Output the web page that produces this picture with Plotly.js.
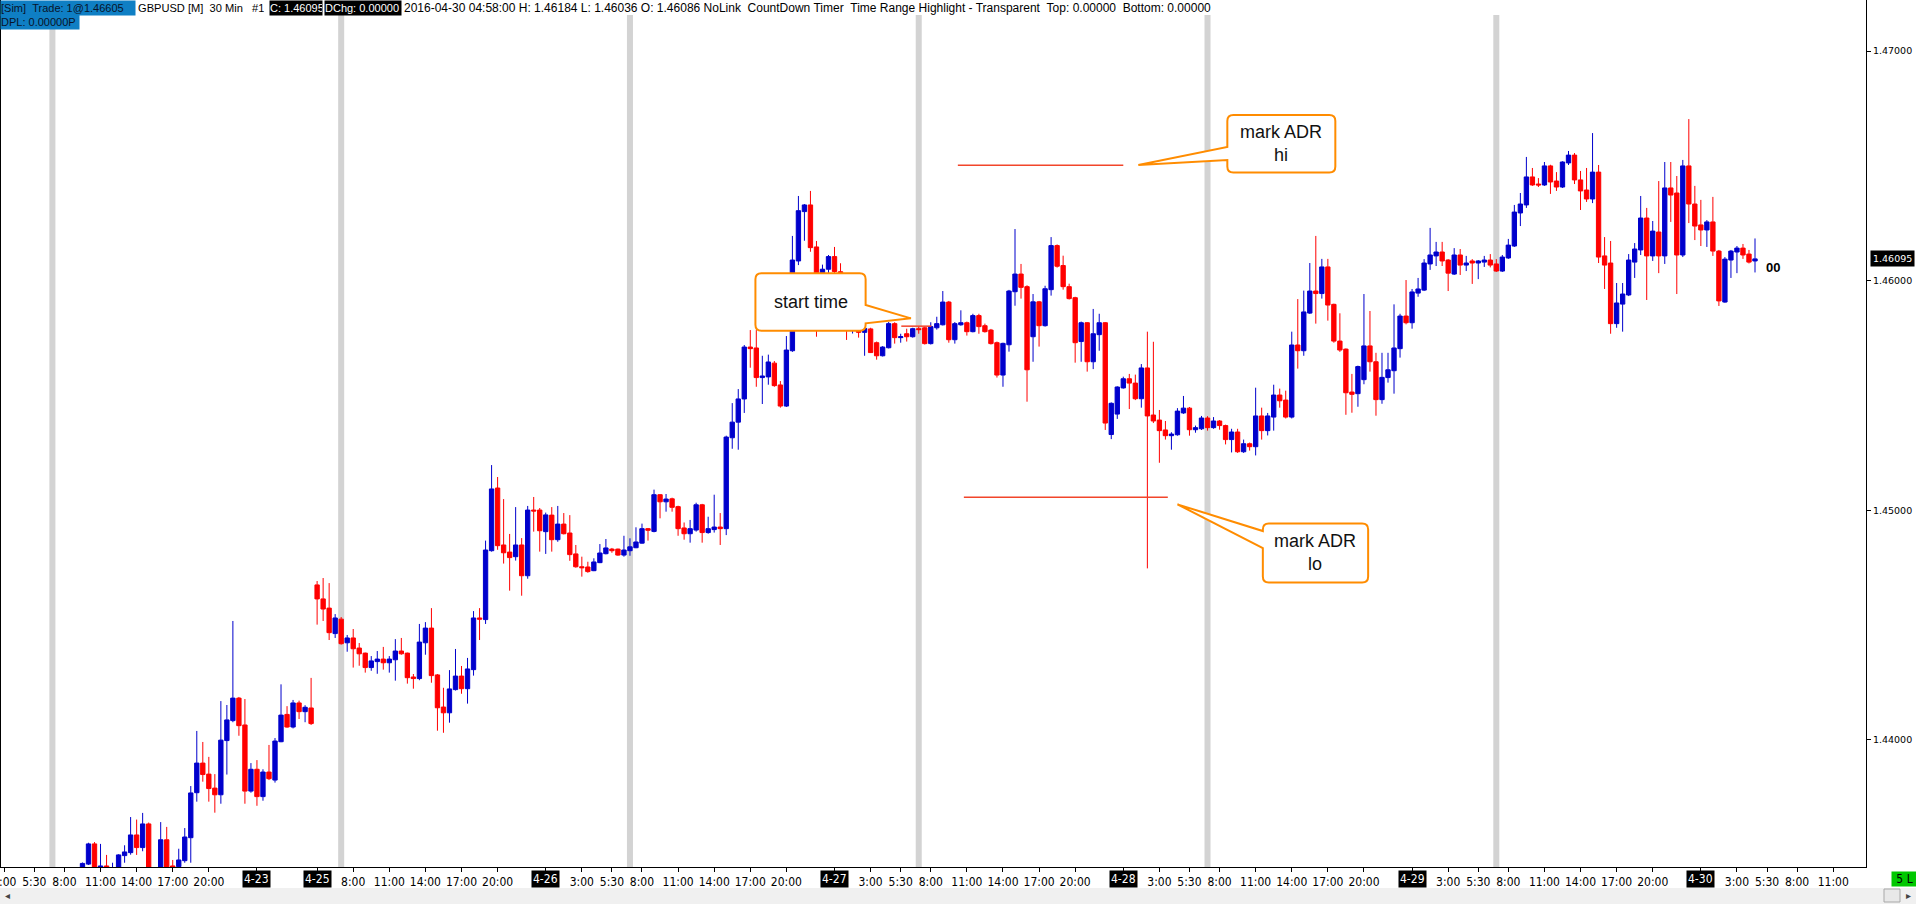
<!DOCTYPE html>
<html><head><meta charset="utf-8">
<script src="https://cdn.plot.ly/plotly-3.0.1.min.js"></script>
<style>html,body{margin:0;padding:0;background:#fff;overflow:hidden}#chart{width:1916px;height:904px}</style>
</head><body><div id="chart"></div>
<script>
// ---- data: GBPUSD 30 min bars; bar number 0 = 2016-04-22 00:00 (weekend removed) ----
const firstBar = 19; // 2016-04-22 09:30
const openP = [
1.43440,1.43459,1.43547,1.43440,1.43451,1.43430,1.43440,1.43496,1.43509,1.43586,
1.43531,1.43634,1.43430,1.43430,1.43565,1.43451,1.43448,1.43474,1.43574,1.43770,
1.43899,1.43851,1.43790,1.43761,1.43997,1.44084,1.44182,1.44065,1.43777,1.43872,
1.43753,1.43860,1.43825,1.43992,1.44111,1.44056,1.44161,1.44123,1.44139,1.44675,
1.44614,1.44574,1.44463,1.44526,1.44423,1.44444,1.44400,1.44378,1.44315,1.44341,
1.44352,1.44336,1.44349,1.44387,1.44378,1.44274,1.44267,1.44423,1.44487,1.44283,
1.44143,1.44118,1.44219,1.44278,1.44223,1.44306,1.44531,1.44524,1.44824,1.45097,
1.44849,1.44818,1.44798,1.44849,1.44715,1.45001,1.45001,1.44907,1.44979,1.44872,
1.44940,1.44901,1.44810,1.44754,1.44753,1.44737,1.44772,1.44811,1.44831,1.44831,
1.44805,1.44824,1.44837,1.44857,1.44920,1.44908,1.45068,1.45037,1.45050,1.45016,
1.44923,1.44898,1.44914,1.45024,1.44903,1.44916,1.44927,1.44920,1.45316,1.45384,
1.45485,1.45711,1.45707,1.45578,1.45581,1.45641,1.45546,1.45454,1.45695,1.46086,
1.46301,1.46330,1.46147,1.45900,1.46050,1.46105,1.46039,1.45880,1.45790,1.45800,
1.45775,1.45790,1.45730,1.45673,1.45708,1.45813,1.45752,1.45769,1.45756,1.45791,
1.45795,1.45726,1.45795,1.45808,1.45907,1.45743,1.45808,1.45817,1.45778,1.45848,
1.45804,1.45785,1.45730,1.45589,1.45721,1.45952,1.46029,1.45974,1.45756,1.45908,
1.45804,1.45961,1.46153,1.46066,1.45974,1.45926,1.45735,1.45817,1.45647,1.45765,
1.45817,1.45330,1.45419,1.45533,1.45573,1.45554,1.45486,1.45620,1.45415,1.45393,
1.45350,1.45325,1.45329,1.45424,1.45445,1.45351,1.45355,1.45402,1.45360,1.45389,
1.45369,1.45308,1.45341,1.45255,1.45290,1.45277,1.45411,1.45347,1.45406,1.45502,
1.45480,1.45406,1.45720,1.45695,1.45859,1.45955,1.45944,1.46060,1.45897,1.45737,
1.45702,1.45515,1.45508,1.45569,1.45716,1.45647,1.45482,1.45578,1.45608,1.45704,
1.45846,1.45817,1.45946,1.45959,1.46073,1.46108,1.46125,1.46090,1.46029,1.46112,
1.46068,1.46086,1.46077,1.46081,1.46090,1.46073,1.46042,1.46099,1.46151,1.46295,
1.46330,1.46452,1.46421,1.46417,1.46500,1.46434,1.46408,1.46513,1.46547,1.46439,
1.46395,1.46356,1.46473,1.46108,1.46077,1.45813,1.45898,1.45938,1.46081,1.46134,
1.46273,1.46108,1.46212,1.46108,1.46404,1.46382,1.46112,1.46500,1.46334,1.46243,
1.46221,1.46256,1.46129,1.45907,1.46090,1.46125,1.46142,1.46116,1.46086];
const highP = [
1.43466,1.43552,1.43555,1.43547,1.43499,1.43465,1.43502,1.43541,1.43664,1.43653,
1.43682,1.43640,1.43440,1.43642,1.43621,1.43477,1.43526,1.43616,1.43799,1.44039,
1.43991,1.43926,1.43851,1.44169,1.44152,1.44518,1.44187,1.44178,1.43899,1.43912,
1.43872,1.43978,1.44008,1.44242,1.44147,1.44174,1.44171,1.44151,1.44270,1.44692,
1.44705,1.44683,1.44548,1.44535,1.44457,1.44483,1.44422,1.44380,1.44365,1.44387,
1.44405,1.44365,1.44439,1.44444,1.44380,1.44287,1.44505,1.44513,1.44574,1.44287,
1.44227,1.44304,1.44396,1.44322,1.44357,1.44561,1.44574,1.44868,1.45197,1.45145,
1.45049,1.44897,1.45014,1.44879,1.45019,1.45058,1.45010,1.44990,1.45014,1.45019,
1.44988,1.44979,1.44849,1.44798,1.44776,1.44791,1.44853,1.44875,1.44836,1.44833,
1.44889,1.44878,1.44926,1.44942,1.44923,1.45090,1.45070,1.45071,1.45055,1.45020,
1.44947,1.44958,1.45033,1.45028,1.44972,1.45068,1.44988,1.45325,1.45467,1.45528,
1.45720,1.45785,1.45785,1.45673,1.45678,1.45650,1.45563,1.45759,1.46195,1.46369,
1.46334,1.46391,1.46173,1.46070,1.46112,1.46147,1.46076,1.45900,1.45870,1.45830,
1.45800,1.45795,1.45735,1.45715,1.45820,1.45819,1.45769,1.45791,1.45795,1.45800,
1.45800,1.45819,1.45843,1.45955,1.45912,1.45820,1.45871,1.45822,1.45856,1.45856,
1.45813,1.45790,1.45735,1.45730,1.45960,1.46225,1.46073,1.45980,1.45942,1.45912,
1.45978,1.46190,1.46158,1.46109,1.45987,1.45930,1.45822,1.45820,1.45877,1.45856,
1.45820,1.45470,1.45540,1.45582,1.45594,1.45591,1.45637,1.45778,1.45734,1.45437,
1.45389,1.45340,1.45445,1.45498,1.45450,1.45369,1.45411,1.45410,1.45406,1.45393,
1.45373,1.45355,1.45355,1.45308,1.45295,1.45534,1.45447,1.45424,1.45547,1.45530,
1.45521,1.45778,1.45920,1.45957,1.46077,1.46195,1.46095,1.46095,1.45900,1.45858,
1.45705,1.45594,1.45630,1.45942,1.45868,1.45686,1.45686,1.45686,1.45897,1.45856,
1.46003,1.45964,1.46012,1.46094,1.46230,1.46169,1.46169,1.46094,1.46142,1.46138,
1.46108,1.46094,1.46090,1.46108,1.46116,1.46094,1.46112,1.46182,1.46330,1.46382,
1.46539,1.46491,1.46447,1.46517,1.46505,1.46473,1.46520,1.46565,1.46556,1.46478,
1.46491,1.46643,1.46504,1.46190,1.46173,1.45990,1.45990,1.46116,1.46164,1.46369,
1.46317,1.46260,1.46434,1.46517,1.46517,1.46456,1.46526,1.46704,1.46413,1.46352,
1.46264,1.46365,1.46134,1.46103,1.46134,1.46151,1.46160,1.46134,1.46184];
const lowP = [
1.43420,1.43455,1.43420,1.43430,1.43430,1.43420,1.43430,1.43465,1.43500,1.43499,
1.43515,1.43420,1.43400,1.43420,1.43420,1.43425,1.43430,1.43465,1.43465,1.43731,
1.43818,1.43731,1.43683,1.43722,1.43849,1.44077,1.44018,1.43722,1.43770,1.43713,
1.43735,1.43825,1.43814,1.43990,1.44053,1.44050,1.44091,1.44077,1.44065,1.44502,
1.44518,1.44435,1.44444,1.44415,1.44384,1.44315,1.44323,1.44293,1.44301,1.44288,
1.44306,1.44293,1.44258,1.44371,1.44245,1.44223,1.44260,1.44371,1.44249,1.44040,
1.44031,1.44075,1.44215,1.44201,1.44158,1.44280,1.44435,1.44505,1.44820,1.44828,
1.44768,1.44650,1.44781,1.44628,1.44702,1.44907,1.44820,1.44810,1.44820,1.44863,
1.44895,1.44780,1.44750,1.44711,1.44728,1.44735,1.44770,1.44808,1.44815,1.44802,
1.44798,1.44802,1.44835,1.44855,1.44868,1.44904,1.44965,1.44994,1.44994,1.44889,
1.44872,1.44859,1.44907,1.44859,1.44898,1.44903,1.44849,1.44892,1.45268,1.45264,
1.45424,1.45621,1.45538,1.45463,1.45547,1.45538,1.45447,1.45450,1.45690,1.46068,
1.46174,1.46126,1.45756,1.45807,1.46030,1.46020,1.45850,1.45742,1.45770,1.45752,
1.45673,1.45685,1.45656,1.45670,1.45705,1.45726,1.45730,1.45735,1.45752,1.45769,
1.45722,1.45722,1.45787,1.45805,1.45730,1.45726,1.45804,1.45761,1.45775,1.45769,
1.45774,1.45722,1.45578,1.45538,1.45691,1.45891,1.45922,1.45473,1.45647,1.45713,
1.45800,1.45935,1.46057,1.45961,1.45918,1.45643,1.45647,1.45604,1.45615,1.45695,
1.45350,1.45310,1.45398,1.45530,1.45441,1.45480,1.45447,1.44747,1.45380,1.45207,
1.45308,1.45264,1.45325,1.45420,1.45325,1.45338,1.45350,1.45347,1.45355,1.45351,
1.45287,1.45252,1.45250,1.45250,1.45260,1.45239,1.45308,1.45326,1.45347,1.45447,
1.45400,1.45400,1.45617,1.45673,1.45855,1.45813,1.45922,1.45826,1.45730,1.45690,
1.45416,1.45425,1.45451,1.45549,1.45604,1.45412,1.45464,1.45556,1.45508,1.45665,
1.45810,1.45791,1.45930,1.45955,1.46047,1.46064,1.46064,1.45955,1.46025,1.46025,
1.46042,1.45986,1.46007,1.46060,1.46058,1.46038,1.46038,1.46095,1.46147,1.46238,
1.46317,1.46413,1.46408,1.46413,1.46378,1.46391,1.46404,1.46504,1.46421,1.46308,
1.46343,1.46338,1.46077,1.45964,1.45769,1.45795,1.45778,1.45933,1.46012,1.46112,
1.45916,1.46086,1.46033,1.46073,1.46256,1.45942,1.46103,1.46251,1.46177,1.46151,
1.46147,1.46108,1.45890,1.45904,1.46012,1.46033,1.46095,1.46075,1.46036];
const closeP = [
1.43462,1.43547,1.43430,1.43451,1.43440,1.43440,1.43499,1.43512,1.43586,1.43531,
1.43634,1.43430,1.43420,1.43565,1.43435,1.43443,1.43477,1.43577,1.43769,1.43899,
1.43849,1.43788,1.43761,1.43999,1.44087,1.44182,1.44062,1.43777,1.43872,1.43753,
1.43860,1.43831,1.43995,1.44108,1.44056,1.44161,1.44123,1.44142,1.44071,1.44614,
1.44570,1.44467,1.44531,1.44419,1.44444,1.44397,1.44375,1.44315,1.44344,1.44352,
1.44336,1.44352,1.44387,1.44375,1.44271,1.44267,1.44426,1.44487,1.44280,1.44140,
1.44118,1.44222,1.44278,1.44223,1.44309,1.44531,1.44526,1.44827,1.45093,1.44846,
1.44815,1.44794,1.44849,1.44715,1.45001,1.44997,1.44911,1.44980,1.44872,1.44940,
1.44898,1.44807,1.44754,1.44750,1.44733,1.44775,1.44814,1.44836,1.44824,1.44805,
1.44827,1.44841,1.44862,1.44920,1.44913,1.45068,1.45037,1.45049,1.45013,1.44920,
1.44898,1.44920,1.45024,1.44903,1.44920,1.44927,1.44920,1.45319,1.45384,1.45485,
1.45711,1.45704,1.45578,1.45585,1.45646,1.45543,1.45454,1.45698,1.46090,1.46305,
1.46330,1.46144,1.45900,1.46050,1.46105,1.46040,1.45880,1.45800,1.45830,1.45775,
1.45792,1.45687,1.45673,1.45711,1.45813,1.45752,1.45756,1.45756,1.45791,1.45787,
1.45726,1.45800,1.45813,1.45907,1.45743,1.45813,1.45817,1.45778,1.45848,1.45800,
1.45778,1.45726,1.45589,1.45727,1.45955,1.46029,1.45971,1.45612,1.45908,1.45804,
1.45965,1.46153,1.46063,1.45974,1.45922,1.45730,1.45817,1.45647,1.45769,1.45817,
1.45380,1.45466,1.45537,1.45573,1.45554,1.45486,1.45620,1.45411,1.45389,1.45347,
1.45325,1.45332,1.45432,1.45445,1.45351,1.45360,1.45402,1.45360,1.45389,1.45369,
1.45308,1.45341,1.45255,1.45290,1.45277,1.45411,1.45347,1.45411,1.45502,1.45477,
1.45406,1.45720,1.45695,1.45864,1.45955,1.45944,1.46060,1.45894,1.45737,1.45698,
1.45512,1.45505,1.45626,1.45716,1.45647,1.45482,1.45579,1.45612,1.45707,1.45846,
1.45817,1.45951,1.45964,1.46077,1.46112,1.46125,1.46086,1.46033,1.46112,1.46068,
1.46077,1.46077,1.46086,1.46090,1.46068,1.46042,1.46103,1.46155,1.46299,1.46334,
1.46452,1.46417,1.46417,1.46500,1.46430,1.46408,1.46517,1.46547,1.46439,1.46391,
1.46356,1.46473,1.46103,1.46068,1.45813,1.45903,1.45942,1.46090,1.46138,1.46273,
1.46108,1.46216,1.46108,1.46404,1.46373,1.46112,1.46500,1.46334,1.46238,1.46221,
1.46256,1.46129,1.45912,1.46094,1.46129,1.46142,1.46112,1.46081,1.46095];

// axis ticks (bar numbers) and their labels; labels with "-" are session dates
const tickBars = [6,11,16,22,28,34,40,48,58,64,70,76,82,88,96,102,107,112,118,124,130,136,144,150,155,160,166,172,178,184,192,198,203,208,214,220,226,232,240,246,251,256,262,268,274,280,288,294,299,304,310];
const tickLabels = ['3:00','5:30','8:00','11:00','14:00','17:00','20:00','4-23','4-25','8:00','11:00','14:00','17:00','20:00','4-26','3:00','5:30','8:00','11:00','14:00','17:00','20:00','4-27','3:00','5:30','8:00','11:00','14:00','17:00','20:00','4-28','3:00','5:30','8:00','11:00','14:00','17:00','20:00','4-29','3:00','5:30','8:00','11:00','14:00','17:00','20:00','4-30','3:00','5:30','8:00','11:00'];
const priceTicks = [1.44, 1.45, 1.46, 1.47];
const highlightBars = [14, 62, 110, 158, 206, 254]; // 7:00 time range highlight
const lastPrice = 1.46095;

// drawn markers (price level, from bar, to bar)
const markPrice = [1.46503, 1.45057, 1.45802];
const markFrom = [164.5, 165.5, 155.1];
const markTo = [192.0, 199.4, 160.1];

// callouts
const calloutText = ['mark ADR<br>hi', 'start time', 'mark ADR<br>lo'];
const calloutTipBar = [194.5, 156.7, 201.0];
const calloutTipPrice = [1.46504, 1.45836, 1.45026];

// ---- layout geometry ----
const W = 1916, H = 904;
const M = {l: 0, r: 50, t: 0, b: 37};
const PW = W - M.l - M.r, PH = H - M.t - M.b;
const xRange = [5.29, 315.45];
const yRange = [1.434464, 1.472226];
const pxPerBar = PW / (xRange[1] - xRange[0]);
const pxPerPrice = PH / (yRange[1] - yRange[0]);
const px2x = px => px / PW;
const py2y = py => 1 - py / PH;

const xBars = openP.map((_, i) => firstBar + i);

const candle = {
  type: 'candlestick', x: xBars, open: openP, high: highP, low: lowP, close: closeP,
  increasing: {line: {color: '#0000cc', width: 1}, fillcolor: '#0000cc'},
  decreasing: {line: {color: '#ff0000', width: 1}, fillcolor: '#ff0000'},
  whiskerwidth: 0, hoverinfo: 'skip', showlegend: false
};

const NARROW = '"Liberation Sans Narrow", "Arial Narrow", "DejaVu Sans Condensed", sans-serif';
const SANS = '"Liberation Sans", Arial, sans-serif';

const shapes = [];
const annotations = [];

// time range highlight bars
highlightBars.forEach(b => shapes.push({
  type: 'rect', xref: 'x', yref: 'paper', x0: b - 0.5, x1: b + 0.5, y0: 0, y1: py2y(15),
  fillcolor: '#d3d3d3', line: {width: 0}, layer: 'below'
}));

// marker lines
markPrice.forEach((p, i) => shapes.push({
  type: 'line', xref: 'x', yref: 'y', x0: markFrom[i], x1: markTo[i], y0: p, y1: p,
  line: {color: '#f2452a', width: 1.5}, layer: 'above'
}));

// callout bubbles (pixel geometry relative to the tip)
const calloutGeom = [
  {box: [89, 197, -50, 7.5], side: 'left', base: [-18, -5]},
  {box: [-155.5, -45.3, -45, 12.4], side: 'right', base: [-13.3, 5]},
  {box: [85.4, 190.7, 19.2, 78.1], side: 'left', base: [26.7, 43.7]}
];
function bubblePath(i) {
  const g = calloutGeom[i], tb = calloutTipBar[i], tp = calloutTipPrice[i];
  const P = (dx, dy) => (tb + dx / pxPerBar).toFixed(4) + ',' + (tp - dy / pxPerPrice).toFixed(7);
  const [x0, x1, y0, y1] = g.box, r = 6;
  let s = 'M' + P(x0 + r, y0) + ' L' + P(x1 - r, y0) + ' Q' + P(x1, y0) + ' ' + P(x1, y0 + r);
  if (g.side === 'right') s += ' L' + P(x1, g.base[0]) + ' L' + P(0, 0) + ' L' + P(x1, g.base[1]);
  s += ' L' + P(x1, y1 - r) + ' Q' + P(x1, y1) + ' ' + P(x1 - r, y1);
  s += ' L' + P(x0 + r, y1) + ' Q' + P(x0, y1) + ' ' + P(x0, y1 - r);
  if (g.side === 'left') s += ' L' + P(x0, g.base[1]) + ' L' + P(0, 0) + ' L' + P(x0, g.base[0]);
  s += ' L' + P(x0, y0 + r) + ' Q' + P(x0, y0) + ' ' + P(x0 + r, y0) + ' Z';
  return s;
}
calloutText.forEach((t, i) => {
  shapes.push({type: 'path', xref: 'x', yref: 'y', path: bubblePath(i),
    fillcolor: '#ffffff', line: {color: '#ff8c00', width: 2}, layer: 'above'});
  const g = calloutGeom[i];
  annotations.push({
    xref: 'x', yref: 'y', showarrow: false, text: t,
    x: calloutTipBar[i] + (g.box[0] + g.box[1]) / 2 / pxPerBar,
    y: calloutTipPrice[i] - (g.box[2] + g.box[3]) / 2 / pxPerPrice,
    xanchor: 'center', yanchor: 'middle', align: 'center',
    font: {family: SANS, size: 18, color: '#111'}
  });
});

// date labels on the time axis
tickBars.forEach((b, i) => {
  if (tickLabels[i].indexOf('-') >= 0) annotations.push({
    xref: 'x', yref: 'paper', x: b, y: py2y(878.5), xanchor: 'center', yanchor: 'middle',
    showarrow: false, text: tickLabels[i], bgcolor: '#000', borderpad: 1,
    font: {family: NARROW, size: 12, color: '#fff'}
  });
});

// header
const hdr = (text, px, py, size, opt) => annotations.push(Object.assign({
  xref: 'paper', yref: 'paper', x: px2x(px), y: py2y(py), xanchor: 'left', yanchor: 'top',
  showarrow: false, text: text, borderpad: 0, height: 14, align: 'left',
  font: {family: SANS, size: size, color: '#000'}
}, opt || {}));
const S2 = '\u00a0\u00a0';
hdr('[Sim]' + S2 + 'Trade: 1@1.46605', 0, 0, 11, {bgcolor: '#0f7fc4', width: 134, font: {family: SANS, size: 11, color: '#08142a'}});
hdr('GBPUSD [M]' + S2 + '30 Min' + S2 + '\u00a0#1', 137, 0, 11.1);
hdr('C: 1.46095', 269, 0, 11, {bgcolor: '#000', width: 52, font: {family: SANS, size: 11, color: '#fff'}});
hdr('DChg: 0.00000', 324, 0, 11, {bgcolor: '#000', width: 76, font: {family: SANS, size: 11, color: '#fff'}});
hdr('2016-04-30 04:58:00 H: 1.46184 L: 1.46036 O: 1.46086 NoLink' + S2 + 'CountDown Timer' + S2 + 'Time Range Highlight - Transparent' + S2 + 'Top: 0.00000' + S2 + 'Bottom: 0.00000', 403, 0, 12);
hdr('DPL: 0.00000P', 0, 14, 11, {bgcolor: '#0f7fc4', width: 78, font: {family: SANS, size: 11, color: '#08142a'}});

// last price tag on the price axis
annotations.push({xref: 'paper', yref: 'y', x: px2x(1870), y: lastPrice, xanchor: 'left', yanchor: 'middle',
  showarrow: false, text: lastPrice.toFixed(5), bgcolor: '#000', borderpad: 2,
  font: {family: '"DejaVu Sans", Verdana, sans-serif', size: 9.5, color: '#fff'}});
// countdown
annotations.push({xref: 'paper', yref: 'paper', x: px2x(1764), y: py2y(267.5), xanchor: 'left', yanchor: 'middle',
  showarrow: false, text: '<b>00</b>', font: {family: SANS, size: 13, color: '#000'}});
// bottom strip
shapes.push({type: 'rect', xref: 'paper', yref: 'paper', x0: 0, x1: px2x(W), y0: py2y(888), y1: py2y(H + 2),
  fillcolor: '#f0f0f0', line: {width: 0}, layer: 'above'});
shapes.push({type: 'rect', xref: 'paper', yref: 'paper', x0: px2x(1884), x1: px2x(1900), y0: py2y(889), y1: py2y(902),
  fillcolor: '#e8e8e8', line: {color: '#a8a8a8', width: 1}, layer: 'above'});
shapes.push({type: 'line', xref: 'paper', yref: 'paper', x0: px2x(0.5), x1: px2x(0.5), y0: 0, y1: 1,
  line: {color: '#000', width: 1}, layer: 'above'});
annotations.push({xref: 'paper', yref: 'paper', x: px2x(7), y: py2y(895.5), xanchor: 'center', yanchor: 'middle',
  showarrow: false, text: '\u25C2', font: {family: SANS, size: 10, color: '#444'}});
annotations.push({xref: 'paper', yref: 'paper', x: px2x(1908), y: py2y(895.5), xanchor: 'center', yanchor: 'middle',
  showarrow: false, text: '\u25B8', font: {family: SANS, size: 10, color: '#444'}});
annotations.push({xref: 'paper', yref: 'paper', x: px2x(1891), y: py2y(871), xanchor: 'left', yanchor: 'top',
  showarrow: false, text: '5 L', bgcolor: '#00c800', width: 25, height: 14, borderpad: 0,
  font: {family: NARROW, size: 12, color: '#000'}});

const layout = {
  width: W, height: H, margin: M, paper_bgcolor: '#fff', plot_bgcolor: '#fff',
  showlegend: false, hovermode: false, dragmode: false,
  boxgap: 0.28, boxgroupgap: 0,
  xaxis: {
    type: 'linear', range: xRange, fixedrange: true, rangeslider: {visible: false},
    tickmode: 'array', tickvals: tickBars,
    ticktext: tickLabels.map(t => t.indexOf('-') >= 0 ? '' : t),
    ticks: 'outside', ticklen: 4, tickcolor: '#000', tickwidth: 1, ticklabeloverflow: 'allow',
    showline: true, linecolor: '#000', linewidth: 1, showgrid: false, zeroline: false,
    tickfont: {family: NARROW, size: 12, color: '#000'}
  },
  yaxis: {
    type: 'linear', side: 'right', range: yRange, fixedrange: true,
    tickmode: 'array', tickvals: priceTicks, ticktext: priceTicks.map(v => v.toFixed(5)),
    ticks: 'outside', ticklen: 4, tickcolor: '#000', tickwidth: 1,
    showline: true, linecolor: '#000', linewidth: 1, showgrid: false, zeroline: false,
    tickfont: {family: '"DejaVu Sans", Verdana, sans-serif', size: 9.5, color: '#000'}
  },
  shapes: shapes, annotations: annotations
};

Plotly.newPlot('chart', [candle], layout, {displayModeBar: false, staticPlot: true});
</script>
</body></html>
